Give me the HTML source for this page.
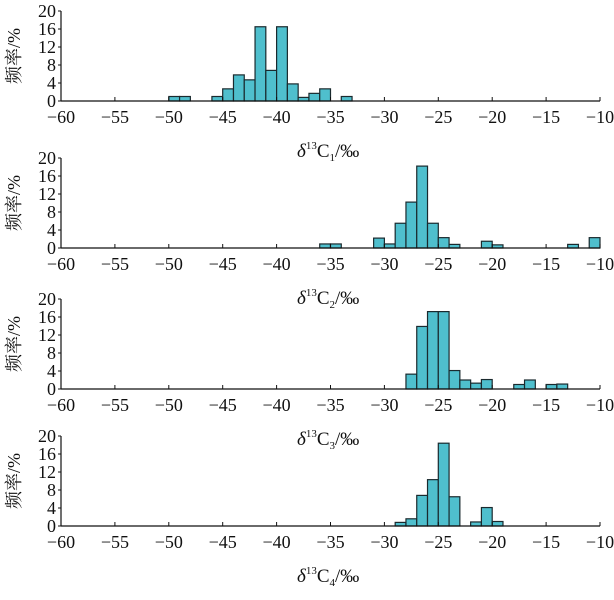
<!DOCTYPE html>
<html><head><meta charset="utf-8"><style>
body{margin:0;background:#fff}
svg text{font-family:"Liberation Serif","Noto Serif CJK SC",serif;fill:#111}
</style></head><body>
<svg id="chart" width="614" height="595" xmlns="http://www.w3.org/2000/svg"></svg>
<script>
const xTicks=[-60,-55,-50,-45,-40,-35,-30,-25,-20,-15,-10];
const yTicks=[0,4,8,12,16,20];
const titlesSub=["1","2","3","4"];
const bins1=[-50,-49,-46,-45,-44,-43,-42,-41,-40,-39,-38,-37,-36,-34];
const vals1=[1,1,1,2.7,5.8,4.7,16.5,6.8,16.5,3.8,0.8,1.7,2.7,1];
const bins2=[-36,-35,-31,-30,-29,-28,-27,-26,-25,-24,-21,-20,-13,-11];
const vals2=[0.9,0.9,2.2,0.9,5.5,10.2,18.2,5.5,2.3,0.8,1.5,0.7,0.8,2.3];
const bins3=[-28,-27,-26,-25,-24,-23,-22,-21,-18,-17,-15,-14];
const vals3=[3.3,13.9,17.2,17.2,4.1,2,1.3,2.1,1,2,1,1.1];
const bins4=[-29,-28,-27,-26,-25,-24,-22,-21,-20];
const vals4=[0.8,1.6,6.8,10.3,18.4,6.5,0.9,4.1,1];
const panels=[[bins1,vals1],[bins2,vals2],[bins3,vals3],[bins4,vals4]];
const baselines=[101,248,389,526];
const NS="http://www.w3.org/2000/svg";
const svg=document.getElementById('chart');
const X0=61,X1=600;
function xs(v){return X0+(v+60)/50*(X1-X0);}
function mk(t,a,p){const e=document.createElementNS(NS,t);for(const k in a)e.setAttribute(k,a[k]);(p||svg).appendChild(e);return e;}
panels.forEach((pd,i)=>{
  const b=baselines[i];
  const ys=v=>b-v/20*90;
  const g=mk('g',{});
  
  
  pd[0].forEach((bin,j)=>{
    const r=mk('rect',{x:xs(bin),y:ys(pd[1][j]),width:xs(bin+1)-xs(bin),height:b-ys(pd[1][j]),fill:'#4fbfcd',stroke:'#1a2a2e','stroke-width':1.2},g);
    
    
  });
  const xa=mk('line',{x1:X0,y1:b,x2:X1,y2:b,stroke:'#111','stroke-width':1.2},g);
  
  
  const ya=mk('line',{x1:X0,y1:b,x2:X0,y2:b-90,stroke:'#111','stroke-width':1.2},g);
  
  
  xTicks.forEach(t=>{
    mk('line',{x1:xs(t),y1:b,x2:xs(t),y2:b-4,stroke:'#111'},g);
    const tx=mk('text',{x:xs(t),y:b+22,'text-anchor':'middle','font-size':18},g);
    tx.textContent=(t<0?'\u2212':'')+Math.abs(t);
    
    
  });
  yTicks.forEach(t=>{
    mk('line',{x1:X0,y1:ys(t),x2:X0-3,y2:ys(t),stroke:'#111'},g);
    const tx=mk('text',{x:56,y:ys(t)+6,'text-anchor':'end','font-size':18},g);
    tx.textContent=t;
    
    
  });
  const yl=mk('text',{x:0,y:0,'text-anchor':'middle','font-size':18,transform:`translate(20,${b-45}) rotate(-90)`},g);
  yl.textContent='频率/%';
  
  
  const tt=mk('text',{x:297,y:b+56,'font-size':19},g);
  tt.innerHTML='<tspan font-style="italic">δ</tspan><tspan font-size="11" dy="-8">13</tspan><tspan dy="8">C</tspan><tspan font-size="11" dy="4">'+titlesSub[i]+'</tspan><tspan dy="-4">/‰</tspan>';
  
  
});
</script>
</body></html>
